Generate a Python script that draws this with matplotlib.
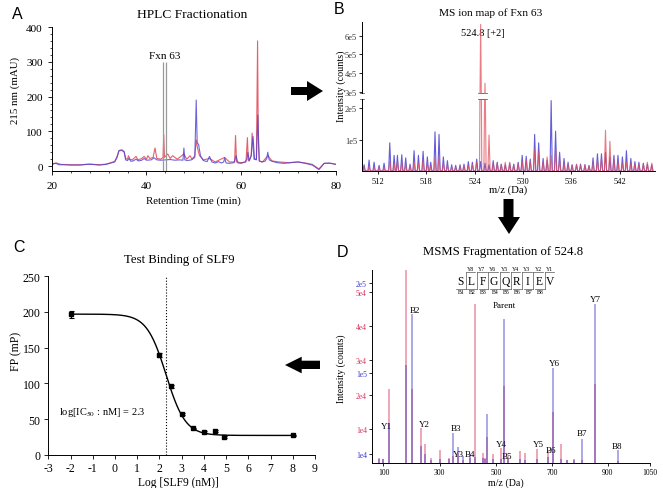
import numpy as np
import matplotlib.pyplot as plt
from matplotlib.patches import Polygon
from matplotlib.ticker import MultipleLocator

plt.rcParams['font.family'] = ['Liberation Serif', 'DejaVu Serif']
plt.rcParams['mathtext.fontset'] = 'stix'
plt.rcParams['axes.unicode_minus'] = False

# ---------------- data ----------------
# A: HPLC trace, retention time (min) and absorbance (mAU)
hplc_t_blue = [20.0, 20.4, 20.9, 21.5, 22.5, 24, 26, 27.5, 28.5, 30,
               31.5, 32.5, 33.3, 33.8, 34.2, 34.8, 35.3, 35.6, 36.0, 36.3,
               36.7, 37.2, 37.8, 38.3, 39.0, 39.5, 40.0, 41.0, 41.6, 42.2,
               43.0, 44.0, 45.0, 46.0, 47.0, 47.7, 47.9, 48.1, 48.6, 49.5,
               50.2, 50.5, 50.7, 51.0, 51.4, 52.0, 52.8, 53.3, 53.8, 54.5,
               55.2, 55.8, 56.3, 56.5, 56.8, 57.5, 58.5, 58.9, 59.3, 60.0,
               60.8, 61.2, 61.4, 61.7, 62.1, 62.5, 62.8, 63.2, 63.5, 63.8,
               64.3, 65.0, 65.4, 65.6, 65.9, 66.5, 67.5, 69.0, 70.5, 72.0,
               73.5, 75.0, 76.4, 77.5, 78.5, 80.0]
hplc_blue = [2, 7, 8, 4, 4, 3, 3, 5, 5, 3,
             5, 9, 12, 25, 45, 47, 42, 18, 16, 22,
             14, 15, 20, 15, 17, 22, 17, 18, 24, 18,
             17, 18, 19, 17, 18, 17, 52, 18, 16, 18,
             25, 190, 68, 62, 30, 16, 13, 28, 12, 9,
             13, 9, 12, 24, 9, 8, 10, 30, 9, 8,
             12, 20, 40, 15, 30, 85, 20, 18, 147, 15,
             12, 14, 22, 40, 18, 14, 10, 8, 10, 12,
             8, 3, -10, 8, 9, 5]
hplc_t_red = [20.0, 20.5, 21.0, 22, 24, 26, 28, 30, 31.5, 32.5,
              33.3, 33.8, 34.2, 34.8, 35.3, 35.6, 36.0, 36.2, 36.5, 37.0,
              37.8, 38.2, 39.0, 39.5, 40.0, 40.3, 40.7, 41.4, 41.8, 42.2,
              43.0, 43.5, 43.65, 43.8, 44.5, 45.0, 45.5, 46.5, 47.9, 48.5,
              49.2, 49.6, 50.2, 50.5, 50.8, 51.2, 52.0, 53.3, 54.5, 56.5,
              57.5, 58.6, 58.8, 59.0, 60.0, 61.0, 61.3, 61.5, 61.8, 62.1,
              62.3, 62.5, 62.7, 63.2, 63.45, 63.6, 63.8, 64.5, 65.6, 66.5,
              68.0, 70.0, 72.0, 74.0, 75.0, 76.4, 77.5, 79.0, 80.0]
hplc_red = [3, 8, 9, 5, 4, 4, 6, 4, 6, 10,
            14, 28, 44, 45, 40, 22, 20, 30, 20, 18,
            28, 18, 22, 28, 20, 30, 22, 25, 52, 22,
            20, 25, 90, 25, 35, 22, 30, 20, 35, 20,
            30, 20, 30, 75, 50, 30, 18, 22, 12, 25,
            12, 12, 88, 12, 10, 12, 82, 15, 20, 30,
            95, 60, 20, 20, 360, 80, 15, 12, 30, 15,
            12, 10, 12, 8, 5, -8, 8, 8, 5]
fxn63_bounds = [43.5, 44.1]

# B: MS ion map, m/z and intensity (x1e5 counts)
ms_mz = [510.26, 510.88, 511.50, 512.12, 512.74, 513.45, 513.99, 514.40, 514.94, 515.43,
         515.97, 516.47, 517.01, 517.59, 518.12, 518.54, 519.07, 519.57, 520.11, 520.61,
         521.14, 521.64, 522.18, 522.67, 523.21, 523.71, 524.25, 524.74, 525.28, 525.78,
         526.30, 526.80, 527.30, 527.80, 528.35, 528.85, 529.40, 529.90, 530.40, 530.90,
         531.45, 531.95, 532.50, 533.00, 533.50, 534.05, 534.55, 535.10, 535.60, 536.10,
         536.65, 537.15, 537.70, 538.20, 538.70, 539.25, 539.75, 540.25, 540.80, 541.30,
         541.80, 542.35, 542.85, 543.40, 543.90, 544.40, 544.95, 545.45, 546.00]
ms_blue = [0.20, 0.35, 0.28, 0.18, 0.25, 0.90, 0.50, 0.50, 0.52, 0.42,
           0.22, 0.65, 0.50, 0.63, 0.45, 0.28, 1.25, 1.17, 0.45, 0.33,
           0.20, 0.18, 0.20, 0.22, 0.30, 0.28, 0.38, 0.30, 0.25, 0.20,
           0.33, 0.28, 0.22, 0.20, 0.25, 0.22, 0.28, 0.50, 0.47, 0.38,
           1.17, 0.90, 0.40, 0.35, 2.25, 1.27, 0.60, 0.40, 0.28, 0.20,
           0.20, 0.22, 0.20, 0.18, 0.42, 0.55, 0.55, 0.60, 0.45, 0.50,
           0.50, 0.45, 0.65, 0.40, 0.30, 0.28, 0.25, 0.22, 0.20]
ms_red = [0.12, 0.15, 0.12, 0.10, 0.12, 0.30, 0.25, 0.30, 0.28, 0.20,
          0.15, 0.30, 0.25, 0.35, 0.25, 0.15, 0.40, 0.45, 0.25, 0.18,
          0.12, 0.12, 0.15, 0.15, 0.18, 0.20, 0.30, 6.60, 3.45, 1.15,
          0.25, 0.25, 0.20, 0.28, 0.28, 0.20, 0.22, 0.30, 0.35, 0.30,
          0.70, 0.60, 0.30, 0.45, 0.50, 0.70, 0.35, 0.25, 0.20, 0.18,
          0.22, 0.18, 0.20, 0.15, 0.25, 0.35, 0.40, 1.30, 0.95, 0.35,
          0.30, 0.25, 0.30, 0.25, 0.22, 0.20, 0.22, 0.28, 0.25]
broken_peaks = [524.74, 525.28]

# C: binding of SLF9
slf9_logc = [-2, 2, 2.5, 3, 3.5, 4, 4.5, 4.9, 8]
slf9_fp = [197, 140, 96, 57, 37, 32, 33, 25, 27]
slf9_err = [5, 3, 2, 2, 1, 1, 1, 1, 1]
fit_top, fit_bottom, log_ic50, hill = 197, 27, 2.3, 1.0

# D: MSMS fragmentation, blue in x1e5 counts, red in x1e4 counts
msms_mz = [85, 98, 118, 179, 203, 233, 249, 270, 303, 332,
           349, 365, 383, 408, 427, 454, 462, 470, 489, 520,
           529, 543, 587, 605, 646, 687, 704, 734, 755, 779,
           806, 853, 936]
msms_blue = [0.05, 0.04, 0.45, 1.09, 1.66, 0.19, 0.10, 0.03, 0.05, 0.04,
             0.33, 0.18, 0.08, 0.10, 0.07, 0.06, 0.04, 0.55, 0.05, 0.05,
             1.60, 0.04, 0.04, 0.03, 0.04, 0.07, 1.06, 0.04, 0.03, 0.03,
             0.27, 1.77, 0.14]
msms_red = [0.15, 0.12, 2.17, 5.65, 2.15, 1.02, 0.55, 0.15, 0.39, 0.15,
            0.20, 0.30, 0.10, 0.15, 4.64, 0.30, 0.15, 0.75, 0.25, 0.44,
            2.24, 0.20, 0.35, 0.30, 0.41, 0.35, 1.49, 0.55, 0.10, 0.12,
            0.10, 2.32, 0.05]
ion_names = ['Y1', 'B2', 'Y2', 'B3', 'Y3', 'B4', 'Y4', 'B5', 'Parent',
             'Y5', 'B6', 'Y6', 'B7', 'Y7', 'B8']
ion_x = [112, 213, 246, 358, 367, 408, 521, 539, 532, 652, 696, 708, 808, 856, 934]
ion_y = [1.09, 4.47, 1.14, 1.02, 0.26, 0.26, 0.56, 0.20, 4.63, 0.56, 0.38, 2.92, 0.88, 4.80, 0.51]
peptide = list('SLFGQRIEV')

BLUE_A, RED_A = '#4a3fd4', '#e2505c'
BLUE_D, RED_D = '#3a36c8', '#d8305a'

W, H = 663, 489
fig = plt.figure(figsize=(W / 100, H / 100), dpi=100)


def rect(l, t, r, b):
    return [l / W, 1 - b / H, (r - l) / W, (b - t) / H]


def style(ax, size):
    for s in ('top', 'right'):
        ax.spines[s].set_visible(False)
    for s in ax.spines.values():
        s.set_linewidth(0.7)
    ax.tick_params(labelsize=size, width=0.6, length=3)
    ax.tick_params(which='minor', width=0.5, length=1.6)


def spikes(x, h, half):
    x = np.asarray(x, float)
    h = np.asarray(h, float)
    xs = np.column_stack([x - half, x, x + half]).ravel()
    ys = np.column_stack([np.zeros_like(h), h, np.zeros_like(h)]).ravel()
    return xs, ys


# ---------------- A ----------------
axA = fig.add_axes(rect(51.7, 28, 336, 172))
axA.plot(hplc_t_red, hplc_red, color=RED_A, lw=0.8, alpha=0.9)
axA.plot(hplc_t_blue, hplc_blue, color=BLUE_A, lw=0.8, alpha=0.8)
axA.vlines(fxn63_bounds, -14, 298, color='#999999', lw=0.9)
axA.text(np.mean(fxn63_bounds), 317, 'Fxn 63', ha='center', va='center', fontsize=8)
axA.set_xlim(20, 80)
axA.set_ylim(-14, 400)
axA.set_xticks([20, 40, 60, 80])
axA.set_yticks([0, 100, 200, 300, 400])
axA.xaxis.set_minor_locator(MultipleLocator(4))
axA.yaxis.set_minor_locator(MultipleLocator(20))
style(axA, 8)
axA.tick_params(axis='x', pad=4)

# ---------------- B ----------------
axBl = fig.add_axes(rect(362, 100, 655, 172))
axBu = fig.add_axes(rect(362, 23, 655, 94))
bx, bb = spikes(ms_mz, np.array(ms_blue) * 1e5, 0.14)
rx, rr = spikes(ms_mz, np.array(ms_red) * 1e5, 0.14)
for ax in (axBl, axBu):
    ax.plot(bx, bb, color=BLUE_A, lw=0.8, alpha=0.85)
    ax.plot(rx, rr, color=RED_A, lw=0.8, alpha=0.75)
    ax.set_xlim(510, 546.4)
    style(ax, 6)
    ax.tick_params(axis='y', length=2, pad=1.5, labelcolor='#333333')
axBl.set_ylim(0, 2.3e5)
axBu.set_ylim(2.93e5, 6.73e5)
axBl.set_yticks([1e5, 2e5], ['1e5', '2e5'])
axBu.set_yticks([3e5, 4e5, 5e5, 6e5], ['3e5', '4e5', '5e5', '6e5'])
axBl.set_xticks([512, 518, 524, 530, 536, 542])
axBl.tick_params(axis='x', length=2, pad=2)
axBu.spines['bottom'].set_visible(False)
axBu.set_xticks([])
axBu.text(524.95, 6.18e5, '524.8 [+2]', ha='center', va='center', fontsize=7.5, zorder=0)
for x in [510] + broken_peaks:
    axBl.plot([x - 0.3, x + 0.3], [2.3e5, 2.3e5], color='#666666', lw=0.6, clip_on=False)
    axBu.plot([x - 0.3, x + 0.3], [2.93e5, 2.93e5], color='#666666', lw=0.6, clip_on=False)

# ---------------- C ----------------
axC = fig.add_axes(rect(48.3, 277.3, 315, 455.7))
xs = np.linspace(min(slf9_logc), max(slf9_logc), 400)
fit = fit_bottom + (fit_top - fit_bottom) / (1 + 10 ** ((xs - log_ic50) * hill))
axC.plot(xs, fit, color='k', lw=1.0)
axC.errorbar(slf9_logc, slf9_fp, yerr=slf9_err, fmt='s', ms=2.2, color='k',
             capsize=1.8, elinewidth=0.8, capthick=0.8)
axC.vlines(log_ic50, 0, 250, colors='k', linestyles=':', lw=0.8)
axC.text(-2.5, 60, r'log[IC$_{50}$ : nM] = 2.3', ha='left', va='center', fontsize=7.5)
axC.set_xlim(-3, 9)
axC.set_ylim(0, 250)
axC.set_xticks(range(-3, 10))
axC.set_yticks(range(0, 251, 50))
style(axC, 8.5)
axC.tick_params(pad=2.5)

# ---------------- D ----------------
axD = fig.add_axes(rect(371.7, 270.7, 650, 464))
axD2 = axD.twinx()
axD.vlines(msms_mz, 0, np.array(msms_red) * 1e4, color=RED_D, alpha=0.5, lw=1.2)
axD2.vlines(msms_mz, 0, np.array(msms_blue) * 1e5, color=BLUE_D, alpha=0.5, lw=1.2)
axD.set_xlim(58, 1050)
axD.set_ylim(0, 5.65e4)
axD2.set_ylim(0, 2.15e5)
axD.set_xticks([100, 300, 500, 700, 900, 1050])
axD.set_yticks([1e4, 2e4, 3e4, 4e4, 5e4], ['1e4', '2e4', '3e4', '4e4', '5e4'])
axD2.set_yticks([1e4, 1e5, 2e5], ['1e4', '1e5', '2e5'])
style(axD, 5.5)
axD.tick_params(axis='x', length=2, pad=1.5)
axD.tick_params(axis='y', length=2, pad=1.5, labelcolor=RED_D)
for s in axD2.spines.values():
    s.set_visible(False)
axD2.yaxis.tick_left()
axD2.tick_params(axis='y', labelsize=5.5, length=2, width=0.6, pad=1.5, labelcolor=BLUE_D)
for name, x, y in zip(ion_names, ion_x, ion_y):
    axD.text(x, y * 1e4, name, ha='center', va='center', fontsize=6.5, zorder=5)

# ---------------- overlay: titles, labels, arrows, peptide ----------------
ov = fig.add_axes([0, 0, 1, 1])
ov.set_xlim(0, W)
ov.set_ylim(H, 0)
ov.axis('off')
ov.patch.set_visible(False)

for letter, x, y in [('A', 17.5, 14.2), ('B', 339, 9.5), ('C', 18.7, 247.5), ('D', 342.5, 252.5)]:
    ov.text(x, y, letter, family='Liberation Sans', fontsize=11.5, ha='center', va='center')

ov.text(192, 18.3, 'HPLC Fractionation', ha='center', va='baseline', fontsize=9.7)
ov.text(490.5, 16.3, 'MS ion map of Fxn 63', ha='center', va='baseline', fontsize=8.2)
ov.text(179, 263, 'Test Binding of SLF9', ha='center', va='baseline', fontsize=9.2)
ov.text(503, 254.5, 'MSMS Fragmentation of 524.8', ha='center', va='baseline', fontsize=9.2)

ov.text(193, 201, 'Retention Time (min)', ha='center', va='center', fontsize=7.8)
ov.text(15, 90, '215 nm (mAU)', ha='center', va='center', rotation=90, fontsize=7.8)
ov.text(507.7, 190, 'm/z (Da)', ha='center', va='center', fontsize=7.7)
ov.text(341, 86.7, 'Intensity (counts)', ha='center', va='center', rotation=90, fontsize=7.3)
ov.text(178, 483, 'Log [SLF9 (nM)]', ha='center', va='center', fontsize=8.3)
ov.text(15.8, 351.7, 'FP (mP)', ha='center', va='center', rotation=90, fontsize=8.5)
ov.text(505.8, 483.5, 'm/z (Da)', ha='center', va='center', fontsize=7.2)
ov.text(340.8, 368.3, 'Intensity (counts)', ha='center', va='center', rotation=90, fontsize=7.0)

arrows = [
    [(291, 88), (307, 88), (307, 82), (323, 92), (307, 102), (307, 96), (291, 96)],
    [(503.5, 200), (513.5, 200), (513.5, 218), (520, 218), (509, 235), (498, 218), (503.5, 218)],
    [(320, 361.7), (301.7, 361.7), (301.7, 357.7), (285, 366), (301.7, 374.3), (301.7, 370), (320, 370)],
]
for pts in arrows:
    ov.add_patch(Polygon(pts, closed=True, color='black', lw=0))

x0, step, yl = 460, 11.3, 281.7
top, bot = 273.3, 289.5
for i, aa in enumerate(peptide):
    ov.text(x0 + i * step, yl, aa, ha='center', va='center', fontsize=8.3)
for i in range(len(peptide) - 1):
    xb = x0 + (i + 0.5) * step
    ov.plot([xb, xb], [top, bot], color='#555555', lw=0.5)
    ov.plot([xb, xb + 0.85 * step], [top, top], color='#555555', lw=0.5)
    ov.plot([xb - 0.85 * step, xb], [bot, bot], color='#555555', lw=0.5)
    ov.text(x0 + (i + 1) * step - 1, 269.3, f'Y{8 - i}', ha='center', va='center', fontsize=4.2)
    ov.text(x0 + i * step + 1, 292.7, f'B{i + 1}', ha='center', va='center', fontsize=4.2)

fig.savefig('out.png', dpi=100)
